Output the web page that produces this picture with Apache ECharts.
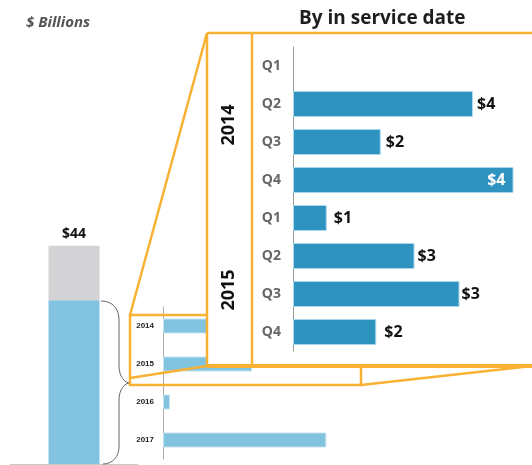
<!DOCTYPE html>
<html>
<head>
<meta charset="utf-8">
<title>By in service date</title>
<script src="https://cdn.jsdelivr.net/npm/echarts@6/dist/echarts.min.js"></script>
<style>
  * { margin: 0; padding: 0 }
  html, body { width: 100%; height: 100%; background: #fff; }
  #main { width: 532px; height: 465px; }
</style>
</head>
<body>
<div id="main"></div>
<script>
// total column ($ billions)
var totalCats = ['Total'];
var inService = [33];
var other = [11];

// by year
var years = ['2014', '2015', '2016', '2017'];
var yearValues = [10, 9, 0.7, 16.5];

// by quarter, 2014-2015
var quarters = ['2014 Q1', '2014 Q2', '2014 Q3', '2014 Q4', '2015 Q1', '2015 Q2', '2015 Q3', '2015 Q4'];
var quarterValues = [0, 4.0, 1.95, 4.9, 0.75, 2.7, 3.7, 1.85];
var quarterLabels = ['', '$4', '$2', '$4', '$1', '$3', '$3', '$2'];

var ORANGE = '#f8b133';
var FONT = '"Open Sans", "Liberation Sans", sans-serif';
// gap between bar end and its label, as placed in the original
var labelGap = [6, 4, 5, 8, 7, 3, 2, 8];

var chart = echarts.init(document.getElementById('main'));

var qData = quarterValues.map(function (v, i) {
  var item = { value: v, label: { distance: labelGap[i] } };
  if (v === 0) {
    item.itemStyle = { borderWidth: 0 };
  }
  if (i === 3) {
    // this one sits inside the bar end in white
    item.label = { position: 'insideRight', color: '#fff', distance: labelGap[i] };
  }
  return item;
});

function line(pts, w) {
  return {
    type: 'polyline', z: 6,
    shape: { points: pts },
    style: { stroke: ORANGE, lineWidth: w || 2.5, fill: null }
  };
}

// one curly-brace half: curve, straight, curve
function brace(x0, y0, xm, y1, y2, x3, y3) {
  var st = { stroke: '#666', lineWidth: 1, fill: null };
  var dir = y3 > y0 ? 1 : -1;
  return [
    { type: 'bezierCurve', z: 2, style: st,
      shape: { x1: x0, y1: y0, cpx1: xm - 6, cpy1: y0, cpx2: xm, cpy2: y0 + 8 * dir, x2: xm, y2: y1 } },
    { type: 'line', z: 2, style: st, shape: { x1: xm, y1: y1, x2: xm, y2: y2 } },
    { type: 'bezierCurve', z: 2, style: st,
      shape: { x1: xm, y1: y2, cpx1: xm, cpy1: y3 - 6 * dir, cpx2: x3 - 5, cpy2: y3, x2: x3, y2: y3 } }
  ];
}

var graphics = [
  // white panel of the zoomed view
  { type: 'rect', z: 3, shape: { x: 207, y: 33, width: 325, height: 333 }, style: { fill: '#fff' } },
  // zoom frame
  line([[207, 33], [532, 33]]),
  line([[207, 33], [207, 366]]),
  line([[252, 33], [252, 366]]),
  line([[207, 366], [532, 366]], 4),
  line([[207, 315], [130, 315], [130, 385], [361, 385], [361, 367]]),
  line([[130, 315], [207, 33]]),
  line([[130, 378], [207, 366]]),
  line([[361, 385], [532, 366]]),
  // year labels of the zoomed view
  { type: 'text', z: 7, x: 229, y: 125, rotation: Math.PI / 2,
    style: { text: '2014', fill: '#111', font: 'bold 18px ' + FONT, align: 'center', verticalAlign: 'middle' } },
  { type: 'text', z: 7, x: 229, y: 290, rotation: Math.PI / 2,
    style: { text: '2015', fill: '#111', font: 'bold 18px ' + FONT, align: 'center', verticalAlign: 'middle' } }
];
graphics = graphics
  .concat(brace(101, 301, 119, 320, 366, 130, 383))
  .concat(brace(103, 464, 119, 447, 400, 130, 383));

chart.setOption({
  animation: false,
  textStyle: { fontFamily: FONT },
  title: [{
    text: 'By in service date',
    left: 294, top: 4,
    textStyle: { fontSize: 19, fontWeight: 'bold', color: '#1e1e1e', fontFamily: FONT }
  }, {
    text: '$ Billions',
    left: 21, top: 10,
    textStyle: { fontSize: 15, fontWeight: 'bold', fontStyle: 'italic', color: '#555', fontFamily: FONT }
  }],
  grid: [
    { left: 10, top: 216, width: 128, height: 248 },
    { left: 163, top: 307, width: 198, height: 152 },
    { left: 293, top: 47, width: 234, height: 304 }
  ],
  xAxis: [{
    gridIndex: 0, type: 'category', data: totalCats,
    axisLine: { lineStyle: { color: '#c8c8c8', width: 1 } },
    axisTick: { show: false }, axisLabel: { show: false }
  }, {
    gridIndex: 1, type: 'value', min: 0, max: 20, show: false
  }, {
    gridIndex: 2, type: 'value', min: 0, max: 5.2, show: false
  }],
  yAxis: [{
    gridIndex: 0, type: 'value', min: 0, max: 50, show: false
  }, {
    gridIndex: 1, type: 'category', data: years, inverse: true,
    axisLine: { lineStyle: { color: '#aaa' } },
    axisTick: { length: 4, lineStyle: { color: '#aaa' } },
    axisLabel: { fontSize: 8, fontWeight: 'bold', color: '#222', margin: 9, fontFamily: 'Liberation Sans' }
  }, {
    gridIndex: 2, type: 'category', data: quarters, inverse: true, z: 5,
    axisLine: { lineStyle: { color: '#999' } },
    axisTick: { length: 5, lineStyle: { color: '#999' } },
    axisLabel: {
      fontSize: 14, fontWeight: 'bold', color: '#666', margin: 12,
      formatter: function (v) { return v.split(' ')[1]; }
    }
  }],
  series: [{
    type: 'bar', xAxisIndex: 0, yAxisIndex: 0, stack: 'total',
    barWidth: 51, data: inService, z: 1,
    itemStyle: { color: '#82c3e0' }
  }, {
    type: 'bar', xAxisIndex: 0, yAxisIndex: 0, stack: 'total',
    barWidth: 51, data: other, z: 1,
    itemStyle: { color: '#d3d3d5' },
    label: {
      show: true, position: 'top', distance: 5,
      fontSize: 14, fontWeight: 'bold', color: '#111',
      formatter: function (p) { return '$' + (inService[p.dataIndex] + other[p.dataIndex]); }
    }
  }, {
    type: 'bar', xAxisIndex: 1, yAxisIndex: 1,
    barWidth: 15, data: yearValues, z: 1,
    itemStyle: { color: '#82c3e0', borderColor: '#c2e3f2', borderWidth: 1 }
  }, {
    type: 'bar', xAxisIndex: 2, yAxisIndex: 2,
    barWidth: 26, data: qData, z: 5,
    itemStyle: { color: '#2f93c0', borderColor: '#a9d9ef', borderWidth: 1 },
    label: {
      show: true, position: 'right',
      fontSize: 16, fontWeight: 'bold', color: '#111',
      formatter: function (p) { return quarterLabels[p.dataIndex]; }
    }
  }],
  graphic: graphics
});
</script>
</body>
</html>
